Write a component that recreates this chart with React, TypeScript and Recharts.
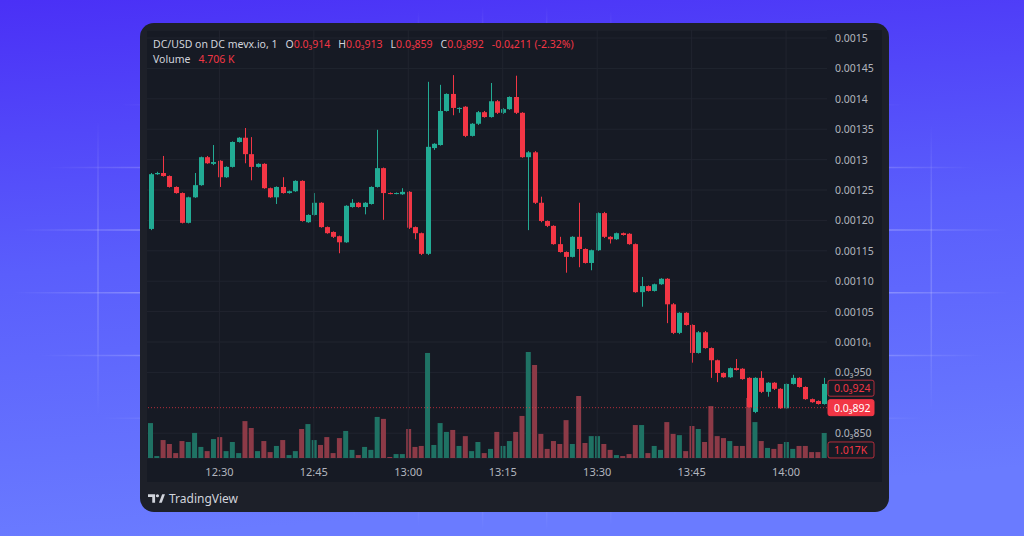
import React from 'react'
import { ComposedChart, Bar, XAxis, YAxis, CartesianGrid, ReferenceLine, Cell } from 'recharts'

// prices in 1e-6 USD, one candle per minute starting 12:19
const START_MINUTE = 12 * 60 + 19

const OPEN = [
  1186, 1276, 1278, 1273, 1255, 1245, 1196, 1238, 1258, 1304,
  1293, 1298, 1271, 1288, 1329, 1336, 1309, 1288, 1293, 1253,
  1238, 1255, 1245, 1248, 1265, 1197, 1209, 1229, 1189, 1181,
  1174, 1164, 1222, 1229, 1222, 1227, 1255, 1286, 1245, 1244,
  1243, 1247, 1189, 1179, 1145, 1319, 1324, 1380, 1408, 1384,
  1387, 1339, 1359, 1378, 1370, 1396, 1377, 1383, 1403, 1377,
  1304, 1312, 1229, 1199, 1191, 1161, 1148, 1140, 1173, 1153,
  1130, 1151, 1212, 1173, 1169, 1179, 1178, 1161, 1082, 1092,
  1084, 1095, 1104, 1062, 1015, 1048, 1028, 982, 1016, 990,
  970, 949, 942, 957, 956, 941, 885, 941, 918, 933,
  923, 891, 931, 941, 926, 906, 903, 898,
]
const HIGH = [
  1278, 1280, 1306, 1274, 1256, 1246, 1239, 1278, 1305, 1306,
  1324, 1299, 1289, 1330, 1337, 1352, 1337, 1294, 1294, 1254,
  1256, 1271, 1249, 1266, 1266, 1210, 1245, 1230, 1190, 1182,
  1175, 1225, 1235, 1230, 1230, 1256, 1349, 1287, 1246, 1246,
  1253, 1248, 1190, 1180, 1428, 1327, 1423, 1409, 1439, 1386,
  1388, 1360, 1380, 1380, 1426, 1398, 1385, 1404, 1438, 1378,
  1314, 1314, 1239, 1200, 1192, 1173, 1149, 1174, 1229, 1154,
  1152, 1213, 1214, 1174, 1180, 1180, 1179, 1162, 1107, 1093,
  1096, 1105, 1105, 1064, 1049, 1049, 1029, 1018, 1018, 991,
  971, 950, 958, 972, 957, 942, 942, 952, 934, 934,
  924, 932, 946, 942, 927, 907, 904, 941,
]
const LOW = [
  1184, 1275, 1272, 1254, 1244, 1195, 1195, 1237, 1257, 1293,
  1291, 1255, 1270, 1287, 1328, 1294, 1266, 1287, 1252, 1237,
  1227, 1244, 1244, 1247, 1198, 1196, 1208, 1188, 1178, 1171,
  1146, 1163, 1221, 1221, 1210, 1226, 1254, 1201, 1243, 1243,
  1242, 1186, 1169, 1143, 1143, 1316, 1323, 1379, 1373, 1377,
  1337, 1338, 1357, 1369, 1369, 1375, 1375, 1382, 1375, 1303,
  1184, 1227, 1197, 1189, 1160, 1147, 1114, 1139, 1123, 1129,
  1118, 1150, 1171, 1162, 1168, 1175, 1160, 1081, 1058, 1083,
  1083, 1094, 1031, 1013, 1013, 1027, 966, 981, 989, 941,
  934, 941, 941, 953, 938, 892, 883, 916, 910, 921,
  890, 890, 930, 925, 905, 900, 897, 897,
]
const CLOSE = [
  1276, 1278, 1273, 1255, 1245, 1196, 1238, 1258, 1304, 1294,
  1296, 1271, 1288, 1329, 1336, 1309, 1288, 1293, 1253, 1238,
  1255, 1245, 1248, 1265, 1199, 1209, 1229, 1189, 1179, 1173,
  1164, 1224, 1229, 1222, 1229, 1255, 1286, 1245, 1244, 1245,
  1247, 1188, 1179, 1145, 1321, 1326, 1380, 1408, 1385, 1385,
  1339, 1359, 1378, 1370, 1396, 1377, 1383, 1403, 1377, 1304,
  1312, 1229, 1199, 1191, 1161, 1148, 1140, 1173, 1153, 1130,
  1151, 1212, 1173, 1169, 1179, 1176, 1161, 1082, 1092, 1084,
  1095, 1104, 1062, 1015, 1048, 1028, 982, 1016, 990, 970,
  949, 942, 957, 954, 939, 893, 941, 918, 933, 923,
  891, 931, 941, 926, 906, 901, 898, 931,
]
// volume in thousands
const VOLUME = [
  1.42, 0.08, 0.73, 0.57, 0.2, 0.69, 0.65, 1.02, 0.45, 0.28,
  0.77, 0.85, 0.28, 0.65, 0.2, 1.5, 1.22, 0.28, 0.69, 0.24,
  0.49, 0.73, 0.12, 0.28, 1.18, 1.38, 0.73, 0.53, 0.85, 0.2,
  0.81, 1.1, 0.33, 0.12, 0.45, 0.33, 1.67, 1.59, 0.04, 0.16,
  0.16, 1.18, 0.45, 0.49, 4.27, 0.53, 1.42, 1.06, 1.14, 0.49,
  0.89, 0.28, 0.65, 0.2, 0.37, 1.06, 0.49, 0.69, 1.06, 1.71,
  4.31, 3.78, 0.98, 0.37, 0.69, 0.57, 1.54, 0.57, 2.52, 0.61,
  0.89, 0.89, 0.57, 0.33, 0.12, 0.08, 0.16, 1.34, 1.34, 0.2,
  0.49, 0.33, 1.46, 0.98, 0.93, 0.28, 1.3, 1.18, 0.65, 2.11,
  0.89, 0.81, 0.69, 0.49, 0.49, 2.44, 1.46, 0.69, 0.41, 0.37,
  0.57, 0.65, 0.37, 0.49, 0.49, 0.24, 0.24, 1.017,
]

const PRICE_TICKS = [1500, 1450, 1400, 1350, 1300, 1250, 1200, 1150, 1100, 1050, 1000, 950, 850]
const PRICE_TICK_LABELS = [
  '0.0015', '0.00145', '0.0014', '0.00135', '0.0013', '0.00125', '0.00120',
  '0.00115', '0.00110', '0.00105', '0.0010₁', '0.0₃950', '0.0₃850',
]
const TIME_TICKS = ['12:30', '12:45', '13:00', '13:15', '13:30', '13:45', '14:00']

const GREEN = '#22ab94'
const RED = '#f23645'
const GREEN_VOL = '#1f7264'
const RED_VOL = '#8c3a47'
const TEXT = '#b2b5be'
const PANE_BG = '#161a24'
const FONT = '"Noto Sans", "DejaVu Sans", sans-serif'

const fmtTime = (m: number) => `${Math.floor(m / 60)}:${String(m % 60).padStart(2, '0')}`

const data = OPEN.map((open, i) => ({
  time: fmtTime(START_MINUTE + i),
  open,
  high: HIGH[i],
  low: LOW[i],
  close: CLOSE[i],
  range: [LOW[i], HIGH[i]],
  volume: VOLUME[i],
}))

function Candle(props: any) {
  const { x, y, width, height, payload } = props
  if (x == null || y == null || !payload) return null
  const { open, high, low, close } = payload
  const top = Math.min(y, y + height)
  const bottom = Math.max(y, y + height)
  const k = high !== low ? (bottom - top) / (high - low) : 0
  const py = (v: number) => top + (high - v) * k
  const color = close >= open ? GREEN : RED
  const bodyTop = py(Math.max(open, close))
  const bodyH = Math.max(1, py(Math.min(open, close)) - bodyTop)
  const cx = Math.round(x + width / 2) + 0.5
  return (
    <g>
      <line x1={cx} x2={cx} y1={top} y2={bottom} stroke={color} strokeWidth={1} />
      <rect x={cx - 2.5} y={bodyTop} width={5} height={bodyH} fill={color} />
    </g>
  )
}

function TimeTick({ x, y, payload }: any) {
  if (!TIME_TICKS.includes(payload.value)) return <g />
  return (
    <text x={x} y={y + 10} textAnchor="middle" fill={TEXT} fontSize={11} fontFamily={FONT}>
      {payload.value}
    </text>
  )
}

function PriceTick({ x, y, payload }: any) {
  const idx = PRICE_TICKS.indexOf(payload.value)
  return (
    <text x={x} y={y + 4} textAnchor="start" fill={TEXT} fontSize={10.5} fontFamily={FONT}>
      {PRICE_TICK_LABELS[idx]}
    </text>
  )
}

function Tag({ viewBox, text, filled, dy = 0 }: any) {
  if (!viewBox) return null
  const x = viewBox.x + viewBox.width + 1
  const cy = viewBox.y + dy
  return (
    <g>
      <rect
        x={x}
        y={cy - 8}
        width={46}
        height={16}
        rx={2}
        fill={filled ? RED : PANE_BG}
        stroke={RED}
        strokeOpacity={filled ? 1 : 0.7}
      />
      <text x={x + 6} y={cy + 4} fill={filled ? '#ffffff' : RED} fontSize={10.5} fontFamily={FONT}>
        {text}
      </text>
    </g>
  )
}

function Background() {
  const vLines = Array.from({ length: 14 }, (_, k) => 98 + k * 64.1)
  const hLines = Array.from({ length: 8 }, (_, k) => 42 + k * 62.7)
  return (
    <svg width={1024} height={536} style={{ position: 'absolute', left: 0, top: 0 }}>
      <defs>
        <linearGradient id="bg" x1="0" y1="0" x2="0.15" y2="1">
          <stop offset="0" stopColor="#4a30f6" />
          <stop offset="0.5" stopColor="#5a5efc" />
          <stop offset="1" stopColor="#6a7bff" />
        </linearGradient>
        <radialGradient id="fade" cx="0.5" cy="0.5" r="0.5">
          <stop offset="0.74" stopColor="#fff" stopOpacity="1" />
          <stop offset="0.98" stopColor="#fff" stopOpacity="0" />
        </radialGradient>
        <mask id="gridMask">
          <rect width={1024} height={536} fill="url(#fade)" />
        </mask>
      </defs>
      <rect width={1024} height={536} fill="url(#bg)" />
      <g mask="url(#gridMask)" stroke="#ffffff" strokeOpacity={0.26} strokeWidth={1.5}>
        {vLines.map((x) => (
          <line key={`v${x}`} x1={x} x2={x} y1={0} y2={536} />
        ))}
        {hLines.map((y) => (
          <line key={`h${y}`} x1={0} x2={1024} y1={y} y2={y} />
        ))}
      </g>
    </svg>
  )
}

export default function App() {
  return (
    <div style={{ position: 'absolute', left: 0, top: 0, width: 1024, height: 536, overflow: 'hidden', fontFamily: FONT }}>
      <Background />
      <div
        style={{
          position: 'absolute',
          left: 140,
          top: 23,
          width: 749,
          height: 489,
          borderRadius: 14,
          background: '#1d2029',
        }}
      />
      <div style={{ position: 'absolute', left: 147, top: 30, width: 735, height: 452, background: PANE_BG }} />
      <div style={{ position: 'absolute', left: 147, top: 30 }}>
        <ComposedChart width={735} height={452} data={data} margin={{ top: 0, right: 0, bottom: 0, left: 0 }}>
          <CartesianGrid xAxisId="main" yAxisId="price" vertical={false} stroke="#20242f" />
          <XAxis
            xAxisId="main"
            dataKey="time"
            interval={0}
            height={24}
            tick={<TimeTick />}
            tickLine={false}
            axisLine={false}
          />
          <XAxis xAxisId="vol" dataKey="time" hide />
          <YAxis
            yAxisId="price"
            orientation="right"
            domain={[809.2, 1513.2]}
            ticks={PRICE_TICKS}
            interval={0}
            allowDataOverflow
            width={55}
            tick={<PriceTick />}
            tickLine={false}
            axisLine={false}
          />
          <YAxis yAxisId="vol" domain={[0, 17.4]} allowDataOverflow hide />
          {TIME_TICKS.map((t) => (
            <ReferenceLine key={t} xAxisId="main" yAxisId="price" x={t} stroke="#20242f" />
          ))}
          <Bar xAxisId="vol" yAxisId="vol" dataKey="volume" barSize={5} isAnimationActive={false}>
            {data.map((d, i) => (
              <Cell key={i} fill={d.close >= d.open ? GREEN_VOL : RED_VOL} />
            ))}
          </Bar>
          <Bar
            xAxisId="main"
            yAxisId="price"
            dataKey="range"
            barSize={5}
            shape={<Candle />}
            isAnimationActive={false}
          />
          <ReferenceLine
            xAxisId="main"
            yAxisId="price"
            y={892}
            stroke={RED}
            strokeOpacity={0.7}
            strokeDasharray="1 2"
            label={(p: any) => <Tag viewBox={p.viewBox} text="0.0₃892" filled />}
          />
          <ReferenceLine
            xAxisId="main"
            yAxisId="price"
            y={924}
            stroke="none"
            label={(p: any) => <Tag viewBox={p.viewBox} text="0.0₃924" />}
          />
          <ReferenceLine
            xAxisId="vol"
            yAxisId="vol"
            y={1.017}
            stroke="none"
            label={(p: any) => <Tag viewBox={p.viewBox} text="1.017K" dy={17} />}
          />
        </ComposedChart>
      </div>
      <div
        style={{
          position: 'absolute',
          left: 153,
          top: 37,
          fontSize: 10.5,
          lineHeight: '15px',
          color: '#d1d4dc',
          whiteSpace: 'nowrap',
        }}
      >
        <div>
          <span>DC/USD on DC mevx.io, 1</span>
          <span style={{ marginLeft: 8 }}>O</span>
          <span style={{ color: RED }}>0.0₃914</span>
          <span style={{ marginLeft: 8 }}>H</span>
          <span style={{ color: RED }}>0.0₃913</span>
          <span style={{ marginLeft: 8 }}>L</span>
          <span style={{ color: RED }}>0.0₃859</span>
          <span style={{ marginLeft: 8 }}>C</span>
          <span style={{ color: RED }}>0.0₃892</span>
          <span style={{ marginLeft: 8, color: RED }}>-0.0₄211 (-2.32%)</span>
        </div>
        <div>
          <span>Volume</span>
          <span style={{ marginLeft: 8, color: RED }}>4.706 K</span>
        </div>
      </div>
      <div
        style={{
          position: 'absolute',
          left: 148,
          top: 490,
          display: 'flex',
          alignItems: 'center',
          gap: 4,
          color: '#d1d4dc',
          fontSize: 12,
        }}
      >
        <svg width={17} height={11} viewBox="0 0 18 11">
          <path d="M0 1h7.5v9H4.5V4H0z" fill="#d1d4dc" />
          <circle cx={10} cy={2.6} r={1.7} fill="#d1d4dc" />
          <path d="M11.6 10L15 1h3l-3.4 9z" fill="#d1d4dc" />
        </svg>
        <span>TradingView</span>
      </div>
    </div>
  )
}
